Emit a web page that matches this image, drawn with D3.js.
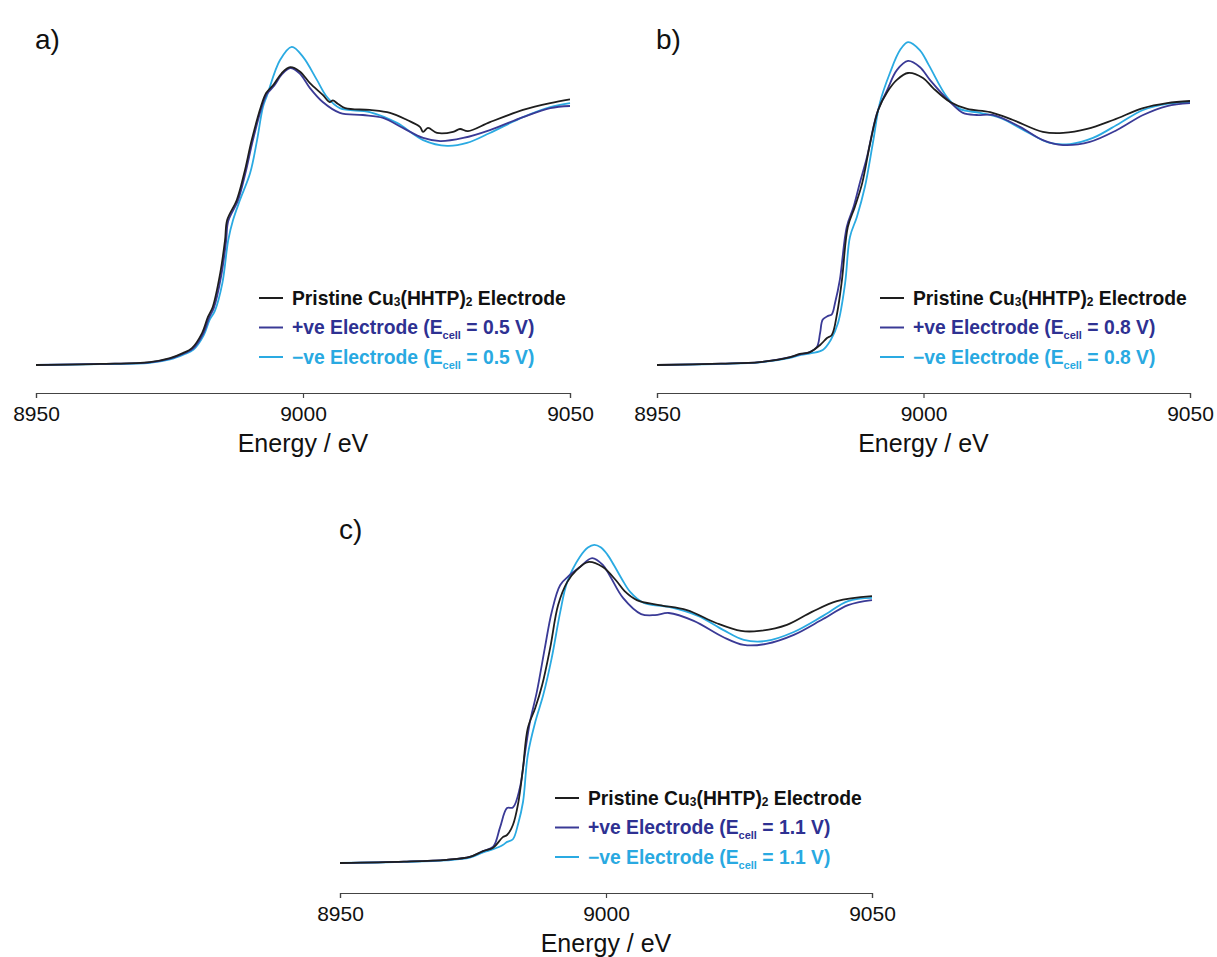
<!DOCTYPE html>
<html>
<head>
<meta charset="utf-8">
<script src="https://cdn.jsdelivr.net/npm/d3@7"></script>
<style>
  body { margin: 0; background: #fff; }
  svg { display: block; }
  text { font-family: "Liberation Sans", Arial, sans-serif; }
</style>
</head>
<body>
<div id="chart"></div>
<script>

// Cu K-edge XANES, normalised absorbance [energy eV, mu]

const energyTicks = [8950, 9000, 9050];
const panelLabels = ["a)", "b)", "c)"];
const cellVoltages = ["0.5", "0.8", "1.1"];
const seriesNames = ["pristine", "positive", "negative"];

// panel a (E cell = 0.5 V)
const aPristine = [[8950,0],[8962,0.004],[8971.3,0.011],[8975.1,0.026],[8977.5,0.045],[8979.2,0.064],[8981.1,0.121],[8982.2,0.182],[8983.1,0.220],[8984.5,0.348],[8985.4,0.473],[8985.8,0.549],[8987.6,0.625],[8989.0,0.727],[8990.4,0.852],[8992.1,0.977],[8993.1,1.030],[8994.5,1.062],[8996.0,1.105],[8997.6,1.128],[8999.4,1.112],[9001.3,1.068],[9003.7,1.023],[9005.0,0.996],[9005.6,1.002],[9006.5,0.990],[9007.9,0.973],[9012.5,0.966],[9016.3,0.955],[9019.5,0.928],[9021.9,0.902],[9022.5,0.883],[9023.4,0.898],[9025.1,0.879],[9028.1,0.883],[9029.4,0.894],[9030.9,0.886],[9035.0,0.920],[9041.2,0.966],[9046.3,0.992],[9050,1.006]];
const aPositive = [[8950,0],[8962,0.004],[8971.3,0.010],[8975.1,0.024],[8977.6,0.043],[8979.4,0.062],[8981.3,0.118],[8982.4,0.178],[8983.3,0.216],[8984.7,0.340],[8985.6,0.470],[8986.0,0.545],[8987.8,0.622],[8989.2,0.725],[8990.6,0.850],[8992.2,0.972],[8993.2,1.025],[8994.6,1.058],[8996.0,1.100],[8997.6,1.125],[8999.4,1.104],[9001.3,1.049],[9003.7,0.996],[9006.9,0.955],[9011.2,0.947],[9015.0,0.936],[9018.7,0.898],[9022.5,0.860],[9025.7,0.848],[9030.0,0.860],[9035.0,0.890],[9041.2,0.939],[9046.3,0.973],[9050,0.981]];
const aNegative = [[8950,0],[8962,0.003],[8971.3,0.008],[8975.1,0.021],[8977.7,0.040],[8979.5,0.058],[8981.4,0.112],[8982.5,0.170],[8983.5,0.205],[8984.9,0.310],[8986.0,0.473],[8986.9,0.549],[8988.2,0.625],[8990.1,0.727],[8991.4,0.852],[8992.5,0.977],[8993.3,1.023],[8995.7,1.155],[8997.9,1.205],[9000,1.167],[9002.6,1.080],[9004.5,1.015],[9006.9,0.973],[9012.5,0.958],[9017.6,0.917],[9022.5,0.852],[9027.0,0.830],[9030.7,0.841],[9035.0,0.879],[9041.2,0.939],[9046.3,0.977],[9050,0.992]];

// panel b (E cell = 0.8 V)
const bPristine = [[8950,0],[8962,0.005],[8969.3,0.011],[8975.0,0.030],[8976.8,0.042],[8978.7,0.049],[8980.6,0.076],[8981.9,0.102],[8982.8,0.114],[8983.8,0.197],[8984.7,0.322],[8985.8,0.523],[8987.1,0.598],[8988.5,0.689],[8990.0,0.841],[8991.5,0.966],[8993.2,1.034],[8995.0,1.080],[8997.1,1.106],[8999.9,1.087],[9001.8,1.049],[9005.0,0.996],[9008.2,0.970],[9012.5,0.958],[9016.8,0.928],[9022.4,0.883],[9026.2,0.879],[9030.7,0.894],[9035.6,0.928],[9041.2,0.973],[9045.7,0.992],[9050,1.000]];
const bPositive = [[8950,0],[8962,0.005],[8969.3,0.011],[8975.0,0.030],[8976.8,0.040],[8978.7,0.049],[8980.0,0.068],[8980.6,0.121],[8981.1,0.172],[8982.1,0.186],[8982.8,0.192],[8983.4,0.235],[8984.3,0.322],[8985.6,0.523],[8986.9,0.600],[8988.1,0.693],[8989.4,0.788],[8991.3,0.955],[8993.2,1.042],[8995.0,1.117],[8997.1,1.152],[8999.3,1.129],[9001.2,1.080],[9005.0,0.996],[9007.4,0.955],[9010.0,0.947],[9013.0,0.947],[9018.1,0.902],[9022.4,0.852],[9026.2,0.833],[9031.2,0.845],[9036.3,0.890],[9041.2,0.947],[9045.7,0.981],[9050,0.992]];
const bNegative = [[8950,0],[8962,0.004],[8969.3,0.010],[8975.0,0.027],[8977.0,0.038],[8979.0,0.045],[8981.1,0.057],[8982.6,0.095],[8983.96,0.159],[8985.3,0.311],[8986.2,0.485],[8987.5,0.561],[8989.0,0.674],[8990.5,0.841],[8991.8,0.992],[8993.7,1.106],[8995.6,1.193],[8997.1,1.223],[8999.3,1.193],[9001.0,1.136],[9004.4,1.015],[9006.8,0.970],[9010.6,0.955],[9014.4,0.936],[9019.4,0.883],[9023.7,0.841],[9027.5,0.837],[9031.8,0.860],[9036.9,0.917],[9041.2,0.966],[9045.7,0.989],[9050,0.996]];

// panel c (E cell = 1.1 V)
const cPristine = [[8950,0],[8962,0.005],[8970,0.012],[8974.4,0.023],[8976.9,0.045],[8978.8,0.058],[8980.6,0.098],[8981.4,0.106],[8982.5,0.144],[8983.5,0.227],[8984.4,0.360],[8985.3,0.511],[8986.7,0.587],[8988.0,0.674],[8989.5,0.814],[8991.0,0.977],[8992.7,1.064],[8994.5,1.110],[8996.6,1.140],[8999.4,1.121],[9001.9,1.070],[9003.5,1.030],[9005.8,0.996],[9010.0,0.977],[9015.2,0.958],[9020.7,0.909],[9025.4,0.879],[9028.8,0.879],[9034.0,0.902],[9038.7,0.951],[9043.4,0.992],[9050,1.011]];
const cPositive = [[8950,0],[8962,0.005],[8970,0.012],[8974.4,0.023],[8976.9,0.045],[8978.8,0.062],[8980.1,0.136],[8981.4,0.208],[8982.5,0.210],[8983.8,0.284],[8984.8,0.420],[8985.7,0.534],[8987.0,0.648],[8988.5,0.814],[8989.8,0.951],[8991.4,1.053],[8993.2,1.091],[8995.1,1.121],[8997.4,1.155],[8999.4,1.129],[9000.8,1.085],[9003.2,1.004],[9006.6,0.943],[9009.2,0.939],[9011.8,0.947],[9016.5,0.917],[9022.0,0.856],[9025.9,0.826],[9030.1,0.830],[9035.3,0.864],[9040.8,0.924],[9045.5,0.977],[9050,0.996]];
const cNegative = [[8950,0],[8962,0.004],[8970,0.010],[8974.4,0.020],[8976.9,0.040],[8978.8,0.052],[8980.6,0.068],[8981.4,0.080],[8982.5,0.090],[8983.5,0.150],[8984.4,0.231],[8985.3,0.409],[8986.7,0.534],[8988.2,0.636],[8989.8,0.777],[8991.4,0.951],[8992.7,1.064],[8995.1,1.160],[8996.6,1.195],[8997.8,1.205],[8999.0,1.196],[9000.2,1.170],[9001.5,1.128],[9003.0,1.075],[9004.5,1.028],[9007.1,0.985],[9011.8,0.970],[9017.3,0.936],[9022.0,0.883],[9025.9,0.845],[9030.1,0.841],[9035.3,0.875],[9040.8,0.936],[9045.5,0.992],[9050,1.004]];

const width = 1217, height = 957;
const lineColors = { pristine: "#1e1e1e", positive: "#3a3a96", negative: "#2aaae2" };
const textColors = { pristine: "#111111", positive: "#2e3192", negative: "#29a9e1" };

// layout of the three panels
const panels = [
  { left: 36,  right: 570,  base: 365, axisY: 393, labelX: 35,  labelY: 49,  legX: 259, legY: 298,
    data: { pristine: aPristine, positive: aPositive, negative: aNegative } },
  { left: 657, right: 1190, base: 365, axisY: 393, labelX: 656, labelY: 49,  legX: 880, legY: 298,
    data: { pristine: bPristine, positive: bPositive, negative: bNegative } },
  { left: 340, right: 872,  base: 863, axisY: 893, labelX: 339, labelY: 539, legX: 555, legY: 798,
    data: { pristine: cPristine, positive: cPositive, negative: cNegative } }
];
const unitHeight = 264;   // px per normalised unit
const legStep = 29.5;

const svg = d3.select("#chart")
  .append("svg")
  .attr("width", width)
  .attr("height", height);

panels.forEach((p, i) => {

  const xScale = d3.scaleLinear()
    .domain([8950, 9050])
    .range([p.left, p.right]);

  const yScale = d3.scaleLinear()
    .domain([0, 1])
    .range([p.base, p.base - unitHeight]);

  const line = d3.line()
    .x(d => xScale(d[0]))
    .y(d => yScale(d[1]))
    .curve(d3.curveCatmullRom.alpha(0.5));

  const g = svg.append("g");

  // draw cyan first, black last so it sits on top
  ["negative", "positive", "pristine"].forEach(name => {
    g.append("path")
      .datum(p.data[name])
      .attr("d", line)
      .attr("fill", "none")
      .attr("stroke", lineColors[name])
      .attr("stroke-width", 1.8)
      .attr("stroke-linejoin", "round");
  });

  // x axis
  const axis = g.append("g")
    .attr("transform", `translate(0,${p.axisY})`)
    .call(d3.axisBottom(xScale)
      .tickValues(energyTicks)
      .tickFormat(d3.format("d"))
      .tickSize(5)
      .tickSizeOuter(5)
      .tickPadding(8));
  axis.select(".domain").attr("stroke", "#444").attr("stroke-width", 1.2);
  axis.selectAll(".tick line").attr("stroke", "#444").attr("stroke-width", 1.2);
  axis.selectAll(".tick text")
    .attr("fill", "#111")
    .attr("font-size", "21px")
    .style("font-family", '"Liberation Sans", Arial, sans-serif');

  g.append("text")
    .attr("x", (p.left + p.right) / 2)
    .attr("y", p.axisY + 59)
    .attr("text-anchor", "middle")
    .attr("font-size", "25px")
    .attr("fill", "#111")
    .text("Energy / eV");

  // panel letter
  g.append("text")
    .attr("x", p.labelX)
    .attr("y", p.labelY)
    .attr("font-size", "28px")
    .attr("fill", "#111")
    .text(panelLabels[i]);

  // legend
  seriesNames.forEach((name, k) => {
    const ly = p.legY + k * legStep;
    g.append("line")
      .attr("x1", p.legX).attr("x2", p.legX + 24)
      .attr("y1", ly).attr("y2", ly)
      .attr("stroke", lineColors[name])
      .attr("stroke-width", 2);

    const t = g.append("text")
      .attr("x", p.legX + 33)
      .attr("y", ly + 6.8)
      .attr("font-size", "19.3px")
      .attr("font-weight", "bold")
      .attr("fill", textColors[name]);

    if (name === "pristine") {
      t.append("tspan").text("Pristine Cu");
      t.append("tspan").attr("font-size", "12px").attr("dy", 1.5).text("3");
      t.append("tspan").attr("dy", -1.5).text("(HHTP)");
      t.append("tspan").attr("font-size", "12px").attr("dy", 1.5).text("2");
      t.append("tspan").attr("dy", -1.5).text(" Electrode");
    } else {
      const sign = name === "positive" ? "+" : "\u2212";
      t.append("tspan").text(sign + "ve Electrode (E");
      t.append("tspan").attr("font-size", "11px").attr("dy", 5).text("cell");
      t.append("tspan").attr("dy", -5).text(" = " + cellVoltages[i] + " V)");
    }
  });
});

</script>
</body>
</html>
